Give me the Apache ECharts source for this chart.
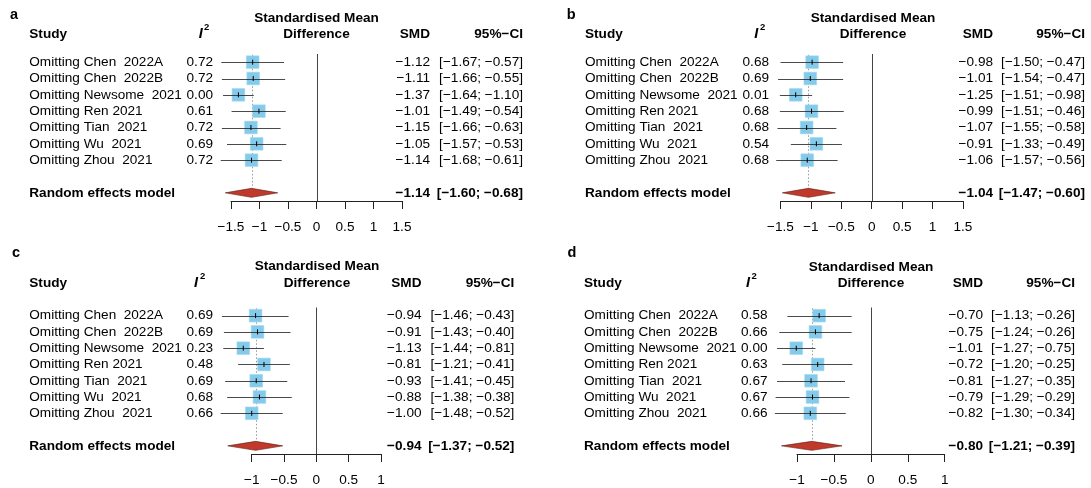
<!DOCTYPE html>
<html><head><meta charset="utf-8">
<script src="https://cdn.jsdelivr.net/npm/echarts@6/dist/echarts.min.js"></script>
<style>html,body{margin:0;padding:0;background:#fff}#c{width:1091px;height:488px}</style>
</head><body><div id="c"></div>
<script>
// ---------- data ----------
const studies = ["Omitting Chen  2022A","Omitting Chen  2022B","Omitting Newsome  2021","Omitting Ren 2021","Omitting Tian  2021","Omitting Wu  2021","Omitting Zhou  2021"];
const summaryLabel = "Random effects model";

const a_i2    = [0.72, 0.72, 0.00, 0.61, 0.72, 0.69, 0.72];
const a_smd   = [-1.12, -1.11, -1.37, -1.01, -1.15, -1.05, -1.14];
const a_lower = [-1.67, -1.66, -1.64, -1.49, -1.66, -1.57, -1.68];
const a_upper = [-0.57, -0.55, -1.10, -0.54, -0.63, -0.53, -0.61];
const a_re    = [-1.14, -1.60, -0.68];

const b_i2    = [0.68, 0.69, 0.01, 0.68, 0.68, 0.54, 0.68];
const b_smd   = [-0.98, -1.01, -1.25, -0.99, -1.07, -0.91, -1.06];
const b_lower = [-1.50, -1.54, -1.51, -1.51, -1.55, -1.33, -1.57];
const b_upper = [-0.47, -0.47, -0.98, -0.46, -0.58, -0.49, -0.56];
const b_re    = [-1.04, -1.47, -0.60];

const c_i2    = [0.69, 0.69, 0.23, 0.48, 0.69, 0.68, 0.66];
const c_smd   = [-0.94, -0.91, -1.13, -0.81, -0.93, -0.88, -1.00];
const c_lower = [-1.46, -1.43, -1.44, -1.21, -1.41, -1.38, -1.48];
const c_upper = [-0.43, -0.40, -0.81, -0.41, -0.45, -0.38, -0.52];
const c_re    = [-0.94, -1.37, -0.52];

const d_i2    = [0.58, 0.66, 0.00, 0.63, 0.67, 0.67, 0.66];
const d_smd   = [-0.70, -0.75, -1.01, -0.72, -0.81, -0.79, -0.82];
const d_lower = [-1.13, -1.24, -1.27, -1.20, -1.27, -1.29, -1.30];
const d_upper = [-0.26, -0.26, -0.75, -0.25, -0.35, -0.29, -0.34];
const d_re    = [-0.80, -1.21, -0.39];

const ticks_ab = [-1.5, -1, -0.5, 0, 0.5, 1, 1.5];
const ticks_cd = [-1, -0.5, 0, 0.5, 1];

// ---------- layout (pixels) ----------
const FONT = '"Liberation Sans", Arial, Helvetica, sans-serif';
const FS = 13.6;
const layouts = {
  a: {grid:{left:231, top:54, width:171, height:147}, letterX:10, letterY:15, hdrY:[18,34], center:316.5, study:29.3, i2r:213, smdr:430, cir:523, iR:202.7, supL:204},
  b: {grid:{left:780.5, top:54, width:182.4, height:147}, letterX:566.7, letterY:15, hdrY:[18,34], center:873, study:585, i2r:769, smdr:993, cir:1085, iR:758.3, supL:760},
  c: {grid:{left:251.7, top:307.5, width:129.3, height:146.5}, letterX:12, letterY:253.3, hdrY:[266.7,283.3], center:317, study:29.3, i2r:213, smdr:421.5, cir:514.4, iR:198, supL:200},
  d: {grid:{left:797, top:307.5, width:147.7, height:146.5}, letterX:567.6, letterY:253.3, hdrY:[267.3,283.3], center:871, study:584, i2r:767.5, smdr:983, cir:1075, iR:750, supL:751.5}
};

const panels = [
  {key:'a', i2:a_i2, smd:a_smd, lo:a_lower, hi:a_upper, re:a_re, ticks:ticks_ab},
  {key:'b', i2:b_i2, smd:b_smd, lo:b_lower, hi:b_upper, re:b_re, ticks:ticks_ab},
  {key:'c', i2:c_i2, smd:c_smd, lo:c_lower, hi:c_upper, re:c_re, ticks:ticks_cd},
  {key:'d', i2:d_i2, smd:d_smd, lo:d_lower, hi:d_upper, re:d_re, ticks:ticks_cd}
];

const SUMMARY_ROW = 9;
const SQ = 12.7;
const SQ_COLOR = '#84CAEA';
const DIA_COLOR = '#C0392B';

function fmt(v){ return v.toFixed(2).replace('-', '\u2212'); }
function ci(lo, hi){ return '[' + fmt(lo) + '; ' + fmt(hi) + ']'; }
function txt(text, x, y, align, bold, size, italic){
  return {type:'text', silent:true, style:{text:text, x:x, y:y, align:align, textAlign:align, verticalAlign:'middle', textVerticalAlign:'middle', fill:'#000',
    font:(italic?'italic ':'') + (bold?'bold ':'') + (size||FS) + 'px ' + FONT}};
}

const grids = [], xAxes = [], yAxes = [], series = [], graphics = [];

panels.forEach((p, k) => {
  const L = layouts[p.key];
  grids.push(Object.assign({containLabel:false}, L.grid));
  xAxes.push({
    type:'value', gridIndex:k, min:p.ticks[0], max:p.ticks[p.ticks.length-1], interval:0.5,
    axisLine:{show:true, lineStyle:{color:'#222', width:1}},
    axisTick:{show:true, length:8, lineStyle:{color:'#222', width:1}},
    axisLabel:{show:true, margin:19, color:'#000', fontSize:FS, fontFamily:FONT,
      formatter: v => String(v).replace('-', '\u2212')},
    splitLine:{show:false}
  });
  yAxes.push({type:'value', gridIndex:k, min:0.5, max:9.5, inverse:true, show:false});

  const rows = p.smd.map((s, i) => [i+1, s, p.lo[i], p.hi[i], p.i2[i], i]);

  // summary, zero line, reference dotted line
  series.push({
    type:'custom', xAxisIndex:k, yAxisIndex:k, clip:false, silent:true, z:1,
    data:[[SUMMARY_ROW, p.re[0], p.re[1], p.re[2]]],
    renderItem:(params, api) => {
      const row = api.value(0), s = api.value(1), lo = api.value(2), hi = api.value(3);
      const c = api.coord([s, row]), l = api.coord([lo, row]), h = api.coord([hi, row]);
      const z0 = api.coord([0, 0.5]), z1 = api.coord([0, 9.5]);
      const d0 = api.coord([s, 0.55]);
      const hh = 4.5;
      return {type:'group', children:[
        {type:'line', shape:{x1:Math.round(z0[0])+0.5, y1:z0[1], x2:Math.round(z0[0])+0.5, y2:z1[1]}, style:{stroke:'#444', lineWidth:1}},
        {type:'line', shape:{x1:Math.round(c[0])+0.5, y1:d0[1], x2:Math.round(c[0])+0.5, y2:c[1]-hh}, style:{stroke:'#999', lineWidth:1, lineDash:[1.5,2]}},
        {type:'polygon', shape:{points:[[l[0], c[1]], [c[0], c[1]-hh], [h[0], c[1]], [c[0], c[1]+hh]]}, style:{fill:DIA_COLOR, stroke:'#5e1a10', lineWidth:0.6}},
        txt(summaryLabel, L.study, c[1], 'left', true),
        txt(fmt(s), L.smdr, c[1], 'right', true),
        txt(ci(lo, hi), L.cir, c[1], 'right', true)
      ]};
    }
  });

  // studies
  series.push({
    type:'custom', xAxisIndex:k, yAxisIndex:k, clip:false, silent:true, z:2,
    data:rows,
    renderItem:(params, api) => {
      const row = api.value(0), s = api.value(1), lo = api.value(2), hi = api.value(3), i2 = api.value(4), idx = api.value(5);
      const c = api.coord([s, row]), l = api.coord([lo, row]), h = api.coord([hi, row]);
      const y = Math.round(c[1]) + 0.5;
      return {type:'group', children:[
        {type:'rect', shape:{x:c[0]-SQ/2, y:c[1]-SQ/2, width:SQ, height:SQ}, style:{fill:SQ_COLOR, stroke:'#a6daf0', lineWidth:0.6}},
        {type:'line', shape:{x1:l[0], y1:y, x2:h[0], y2:y}, style:{stroke:'#2a2a2a', lineWidth:1, opacity:0.85}},
        {type:'line', shape:{x1:c[0], y1:c[1]-2.5, x2:c[0], y2:c[1]+2.5}, style:{stroke:'#000', lineWidth:1}},
        txt(studies[idx], L.study, c[1], 'left', false),
        txt(i2.toFixed(2), L.i2r, c[1], 'right', false),
        txt(fmt(s), L.smdr, c[1], 'right', false),
        txt(ci(lo, hi), L.cir, c[1], 'right', false)
      ]};
    }
  });

  // headers
  graphics.push(txt(p.key, L.letterX, L.letterY, 'left', true, 14.5));
  graphics.push(txt('Standardised Mean', L.center, L.hdrY[0], 'center', true));
  graphics.push(txt('Difference', L.center, L.hdrY[1], 'center', true));
  graphics.push(txt('Study', L.study, L.hdrY[1], 'left', true));
  graphics.push(txt('SMD', L.smdr, L.hdrY[1], 'right', true));
  graphics.push(txt('95%\u2212CI', L.cir, L.hdrY[1], 'right', true));
  graphics.push(txt('I', L.iR, L.hdrY[1], 'right', true, 14.5, true));
  graphics.push(txt('2', L.supL, L.hdrY[1]-7, 'left', true, 9.5));
});

const chart = echarts.init(document.getElementById('c'), null, {renderer:'canvas'});
chart.setOption({
  animation:false,
  backgroundColor:'#fff',
  grid:grids, xAxis:xAxes, yAxis:yAxes, series:series,
  graphic:graphics
});
</script>
</body></html>
